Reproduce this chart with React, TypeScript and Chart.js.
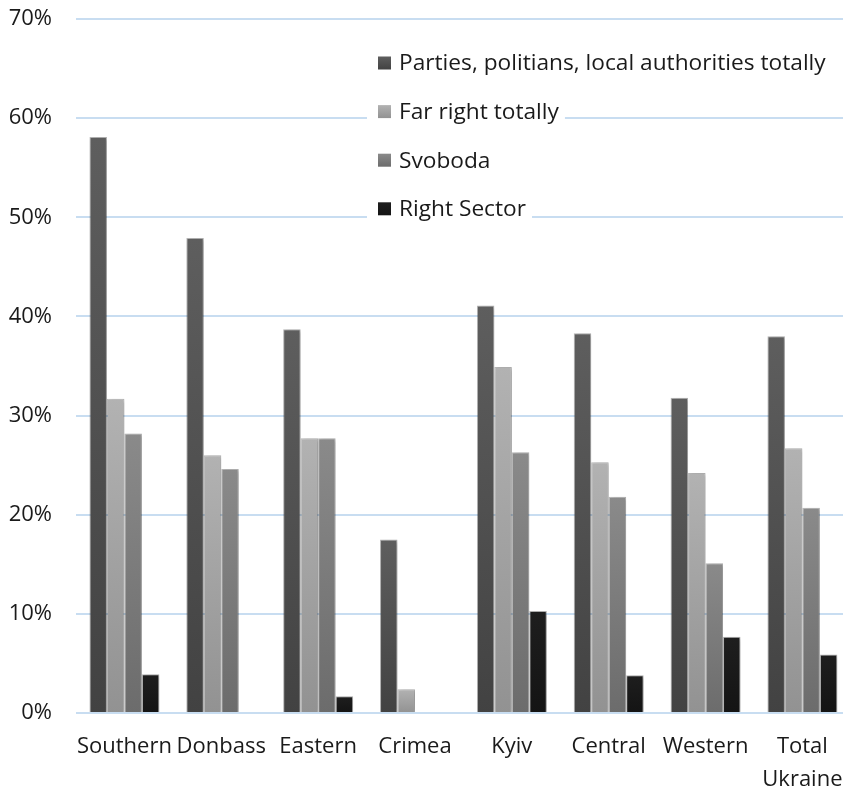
import React, { useEffect, useRef } from "react";
import { Chart, registerables } from "chart.js";

Chart.register(...registerables);

const categories: string[][] = [
  ["Southern"],
  ["Donbass"],
  ["Eastern"],
  ["Crimea"],
  ["Kyiv"],
  ["Central"],
  ["Western"],
  ["Total", "Ukraine"],
];

const seriesLabels = [
  "Parties, politians, local authorities totally",
  "Far right totally",
  "Svoboda",
  "Right Sector",
];

const partiesValues = [58.1, 47.9, 38.7, 17.5, 41.1, 38.3, 31.8, 38.0];
const farRightValues = [31.7, 26.0, 27.7, 2.4, 34.9, 25.3, 24.2, 26.7];
const svobodaValues = [28.2, 24.6, 27.7, null, 26.3, 21.8, 15.1, 20.7];
const rightSectorValues = [3.9, null, 1.7, null, 10.3, 3.8, 7.7, 5.9];

const yTickValues = [0, 10, 20, 30, 40, 50, 60, 70];

const seriesColors: [string, string][] = [
  ["#5e5e5e", "#424242"],
  ["#b2b2b2", "#929292"],
  ["#8a8a8a", "#6c6c6c"],
  ["#1e1e1e", "#141414"],
];

const FONT = "'Open Sans', 'Liberation Sans', sans-serif";

function gradientFill(top: string, bottom: string) {
  return (ctx: any) => {
    const chart = ctx.chart;
    if (!chart.chartArea || ctx.type !== "data") return bottom;
    const y = chart.scales.y;
    const v = ctx.raw ?? 0;
    const y0 = y.getPixelForValue(0);
    const y1 = y.getPixelForValue(v);
    if (!(y0 > y1)) return bottom;
    const g = chart.ctx.createLinearGradient(0, y1, 0, y0);
    g.addColorStop(0, top);
    g.addColorStop(1, bottom);
    return g;
  };
}

const shadowPlugin = {
  id: "barShadow",
  beforeDatasetsDraw(chart: any) {
    const c = chart.ctx;
    c.save();
    c.shadowColor = "rgba(0,0,0,0.22)";
    c.shadowBlur = 4;
    c.shadowOffsetX = 2;
    c.shadowOffsetY = 1;
  },
  afterDatasetsDraw(chart: any) {
    chart.ctx.restore();
  },
};

const legendPlugin = {
  id: "customLegend",
  afterDraw(chart: any) {
    const c = chart.ctx;
    const startX = 367;
    const markerX = 378;
    const marker = 13;
    const textX = 399;
    const firstY = 63;
    const step = 48.6;
    c.save();
    c.font = `22.7px ${FONT}`;
    c.textBaseline = "middle";
    c.textAlign = "left";
    chart.data.datasets.forEach((ds: any, i: number) => {
      const cy = firstY + i * step;
      const w = c.measureText(ds.label).width;
      c.fillStyle = "#ffffff";
      c.fillRect(startX, cy - 18, textX + w + 6 - startX, 36);
      const [top, bottom] = seriesColors[i];
      const g = c.createLinearGradient(0, cy - marker / 2, 0, cy + marker / 2);
      g.addColorStop(0, top);
      g.addColorStop(1, bottom);
      c.fillStyle = g;
      c.fillRect(markerX, cy - marker / 2, marker, marker);
      c.fillStyle = "#1a1a1a";
      c.fillText(ds.label, textX, cy + 1);
    });
    c.restore();
  },
};

export default function App() {
  const ref = useRef<HTMLCanvasElement | null>(null);

  useEffect(() => {
    if (!ref.current) return;
    const valuesList = [partiesValues, farRightValues, svobodaValues, rightSectorValues];
    const chart = new Chart(ref.current, {
      type: "bar",
      data: {
        labels: categories,
        datasets: valuesList.map((vals, i) => ({
          label: seriesLabels[i],
          data: vals,
          backgroundColor: gradientFill(seriesColors[i][0], seriesColors[i][1]),
          borderColor: "rgba(50,50,50,0.35)",
          borderWidth: 1,
          borderSkipped: "bottom",
          barPercentage: 1,
          categoryPercentage: 0.722,
        })),
      },
      options: {
        responsive: false,
        animation: false,
        devicePixelRatio: 1,
        layout: { padding: { top: 19, right: 8, left: 0, bottom: 0 } },
        plugins: {
          legend: { display: false },
          tooltip: { enabled: false },
        },
        scales: {
          x: {
            grid: { display: false, drawTicks: false },
            border: { display: false },
            ticks: {
              font: { family: FONT, size: 22, lineHeight: 1.5 },
              color: "#1a1a1a",
              padding: 17,
              maxRotation: 0,
              autoSkip: false,
            },
            afterFit: (s: any) => {
              s.height = 76;
            },
          },
          y: {
            min: 0,
            max: 70,
            afterBuildTicks: (s: any) => {
              s.ticks = yTickValues.map((v) => ({ value: v }));
            },
            grid: {
              color: "#c8ddf1",
              lineWidth: 2,
              drawTicks: true,
              tickLength: 20,
              tickColor: "rgba(0,0,0,0)",
            },
            border: { display: false },
            ticks: {
              font: { family: FONT, size: 22 },
              color: "#1a1a1a",
              padding: 4,
              callback: (v: any) => `${v}%`,
            },
            afterFit: (s: any) => {
              s.width = 76;
            },
          },
        },
      },
      plugins: [shadowPlugin, legendPlugin],
    });
    return () => chart.destroy();
  }, []);

  return (
    <div style={{ position: "fixed", left: 0, top: 0, width: 860, height: 789, background: "#fff" }}>
      <canvas ref={ref} width={860} height={789} style={{ display: "block" }} />
    </div>
  );
}
